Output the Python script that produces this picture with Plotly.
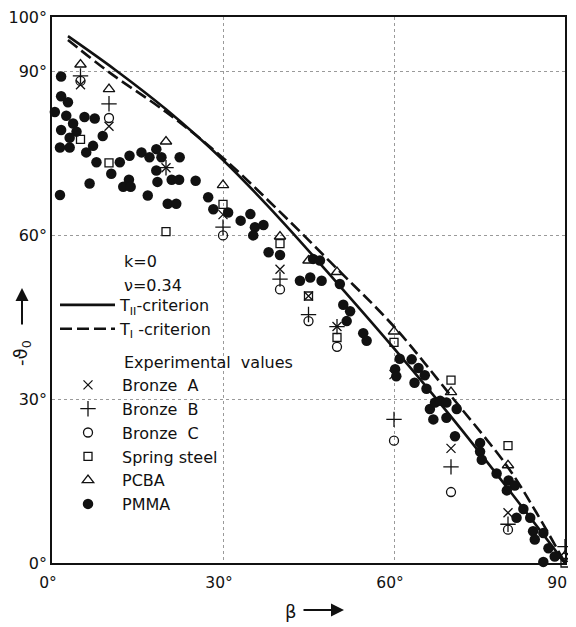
import plotly.graph_objects as go

# ---------------- data ----------------
# theoretical curves
t2_beta = [2.8, 11.0, 20.0, 30.0, 40.0, 50.0, 60.0, 70.0, 80.0, 90.0]
t2_theta = [96.5, 90.4, 83.1, 73.8, 63.0, 51.3, 39.3, 26.8, 13.6, 0.0]
t1_beta = [2.8, 10.0, 20.0, 30.0, 40.0, 50.0, 60.0, 70.0, 80.0, 85.0, 90.0]
t1_theta = [95.8, 89.9, 82.6, 74.2, 64.3, 53.9, 43.3, 30.6, 17.5, 9.2, 0.0]

# experimental values
bronze_a_beta = [5, 10, 20, 30, 40, 45, 50, 60, 70, 80]
bronze_a = [87.6, 80.0, 72.4, 63.8, 53.8, 48.9, 43.3, 34.5, 21.0, 9.2]
bronze_b_beta = [5, 10, 20, 30, 40, 45, 50, 60, 70, 80, 90]
bronze_b = [89.2, 84.1, 72.4, 61.5, 52.0, 45.5, 43.3, 26.3, 17.6, 7.1, 3.0]
bronze_c_beta = [5, 10, 30, 40, 45, 50, 60, 70, 80, 90]
bronze_c = [88.3, 81.5, 60.0, 50.1, 44.3, 39.6, 22.4, 13.0, 6.1, 1.0]
spring_beta = [5, 10, 20, 30, 40, 45, 50, 60, 70, 80, 90]
spring = [77.6, 73.3, 60.7, 65.7, 58.5, 48.9, 41.3, 40.4, 33.5, 21.5, 0.0]
pcba_beta = [5, 10, 20, 30, 40, 45, 50, 60, 70, 80, 90]
pcba = [91.3, 86.8, 77.2, 69.2, 59.8, 55.4, 53.3, 42.4, 31.3, 17.9, 1.3]

pmma_beta = [1.6, 1.6, 2.8, 0.5, 2.5, 3.7, 5.7, 7.5, 1.6, 4.3, 3.1, 1.4, 3.1, 8.9,
             7.2, 6.0, 7.8, 13.6, 11.9, 15.7, 17.1, 18.3, 19.2, 22.4, 10.4, 6.6,
             1.4, 18.3, 13.5, 12.5, 13.8, 16.8, 18.5, 21.0, 22.3, 20.3, 21.8, 25.2,
             27.4, 28.3, 30.9, 33.1, 34.8, 35.6, 37.1, 35.3, 38.0, 40.0,
             45.8, 47.0, 43.5, 45.3, 47.3, 50.5, 51.1, 52.3, 51.7, 54.6, 55.2,
             61.0, 60.2, 60.4, 63.1, 64.3, 65.4, 63.6, 65.7,
             66.3, 67.2, 68.1, 69.2, 66.9, 69.2, 71.0, 70.7,
             75.1, 75.1, 75.4, 78.0, 80.1, 81.2, 79.8,
             82.7, 81.5, 83.9, 84.4, 86.2, 84.7, 87.1, 86.2, 88.2]
pmma = [89.1, 85.5, 84.4, 82.6, 81.9, 80.5, 81.7, 81.4, 79.3, 79.0, 77.9, 76.1, 76.1, 78.2,
        76.4, 75.2, 73.4, 74.6, 73.4, 75.2, 74.3, 75.8, 74.3, 74.3, 71.3, 69.5,
        67.4, 71.9, 70.2, 68.9, 68.9, 67.3, 69.8, 70.2, 70.2, 65.8, 65.8, 70.0,
        67.0, 64.8, 64.2, 62.7, 63.9, 61.5, 61.9, 60.0, 56.9, 56.4,
        55.7, 55.4, 51.7, 52.3, 51.7, 51.1, 47.3, 46.1, 44.3, 42.1, 40.7,
        37.4, 35.5, 34.2, 37.3, 35.7, 34.4, 33.0, 31.9,
        28.2, 29.4, 29.7, 29.4, 26.3, 26.6, 28.2, 23.2,
        22.0, 20.4, 18.9, 16.4, 15.1, 14.2, 13.3,
        9.9, 8.3, 8.3, 5.8, 5.5, 4.3, 2.7, 0.2, 1.2]

x_tickvals = [0, 30, 60, 90]
x_ticktext = ["0°", "30°", "60°", "90°"]
y_tickvals = [0, 30, 60, 90, 100]
y_ticktext = ["0°", "30°", "60°", "90°", "100°"]

FONT = "DejaVu Sans"
INK = "#111111"

fig = go.Figure()

fig.add_trace(go.Scatter(x=t2_beta, y=t2_theta, mode="lines", name="T<sub>II</sub>-criterion",
                         line=dict(color=INK, width=2.6, shape="spline", smoothing=1.0),
                         legend="legend"))
fig.add_trace(go.Scatter(x=t1_beta, y=t1_theta, mode="lines", name="T<sub>I</sub> -criterion",
                         line=dict(color=INK, width=2.6, dash="12px,5px", shape="spline", smoothing=1.0),
                         legend="legend"))

def mk(xs, ys, name, symbol, size, lw=1.3):
    return go.Scatter(x=xs, y=ys, mode="markers", name=name, legend="legend2", cliponaxis=False,
                      marker=dict(symbol=symbol, size=size, color=INK,
                                  line=dict(color=INK, width=lw)))

fig.add_trace(mk(bronze_a_beta, bronze_a, "Bronze  A", "x-thin-open", 9))
fig.add_trace(mk(bronze_b_beta, bronze_b, "Bronze  B", "cross-thin-open", 11))
fig.add_trace(mk(bronze_c_beta, bronze_c, "Bronze  C", "circle-open", 9))
fig.add_trace(mk(spring_beta, spring, "Spring steel", "square-open", 8))
fig.add_trace(mk(pcba_beta, pcba, "PCBA", "triangle-up-open", 10))
fig.add_trace(mk(pmma_beta, pmma, "PMMA", "circle", 10.5, lw=0))

# the page body has an 8px margin, so the figure is drawn 8px right/down of the window origin
OFF = 8
WIN_W, WIN_H = 576, 627
PL, PR, PT, PB = 52, 565, 17, 563          # wanted plot-area edges in window pixels
W, H = WIN_W - OFF, WIN_H - OFF
L, T = PL - OFF, PT - OFF
R, B = WIN_W - PR, WIN_H - PB
pw, ph = PR - PL, PB - PT

def px(xp):
    return (xp - PL) / pw

def py(yp):
    return (PB - yp) / ph

axis_common = dict(showline=True, linecolor=INK, linewidth=1.5, mirror=True, ticks="",
                   showgrid=True, gridcolor="#9a9a9a", griddash="dot", gridwidth=1,
                   zeroline=False, automargin=False, ticklabeloverflow="allow")

fig.update_layout(
    width=W, height=H,
    margin=dict(l=L, r=R, t=T, b=B, pad=0, autoexpand=False),
    paper_bgcolor="white", plot_bgcolor="white",
    font=dict(family=FONT, size=16, color=INK),
    xaxis=dict(range=[0, 90], tickvals=x_tickvals, ticktext=x_ticktext,
               ticklabelshift=-4, ticklabelstandoff=5,
               tickfont=dict(size=15.5, family=FONT, color=INK), **axis_common),
    yaxis=dict(range=[0, 100], tickvals=y_tickvals, ticktext=y_ticktext,
               tickfont=dict(size=16, family=FONT, color=INK), **axis_common),
    legend=dict(x=px(55), y=py(288), xanchor="left", yanchor="top", bgcolor="rgba(0,0,0,0)",
                itemwidth=55, tracegroupgap=0, font=dict(size=16, family=FONT, color=INK)),
    legend2=dict(x=px(54), y=py(368), xanchor="left", yanchor="top", bgcolor="rgba(0,0,0,0)",
                 itemwidth=58, tracegroupgap=0, font=dict(size=16, family=FONT, color=INK)),
)

annots = [
    dict(text="k=0", x=px(122), y=py(262)),
    dict(text="ν=0.34", x=px(122), y=py(285)),
    dict(text="Experimental  values", x=px(122), y=py(362)),
]
for a in annots:
    fig.add_annotation(xref="paper", yref="paper", xanchor="left", yanchor="middle",
                       showarrow=False, font=dict(size=16, family=FONT, color=INK), **a)

# axis titles with arrows
fig.add_annotation(xref="paper", yref="paper", x=px(291), y=py(611), text="β", showarrow=False,
                   xanchor="center", yanchor="middle", font=dict(size=18, family=FONT, color=INK))
fig.add_annotation(xref="paper", yref="paper", x=px(344), y=py(610), ax=-42, ay=0, text="",
                   showarrow=True, arrowhead=2, arrowsize=1.3, arrowwidth=2, arrowcolor=INK)
fig.add_annotation(xref="paper", yref="paper", x=px(22), y=py(353), text="-ϑ<sub>0</sub>",
                   xanchor="center", yanchor="middle",
                   textangle=-90, showarrow=False, font=dict(size=18, family=FONT, color=INK))
fig.add_annotation(xref="paper", yref="paper", x=px(22), y=py(288), ax=0, ay=38, text="",
                   showarrow=True, arrowhead=2, arrowsize=1.3, arrowwidth=2, arrowcolor=INK)

fig.write_html("out.html")
